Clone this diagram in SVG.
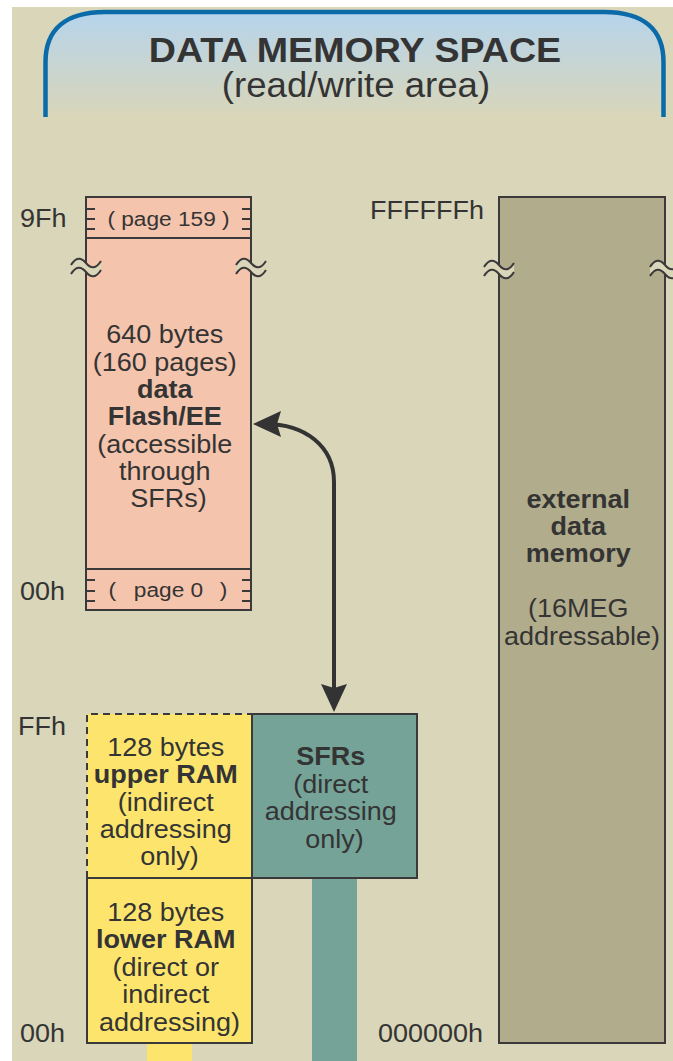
<svg xmlns="http://www.w3.org/2000/svg" xmlns:xlink="http://www.w3.org/1999/xlink" width="673" height="1061" viewBox="0 0 673 1061">
  <style>
    .txt { font-family: "Liberation Sans", Arial, Helvetica, sans-serif; fill: #343434; }
    .body { font-size: 25px; text-anchor: middle; }
    .addr { font-size: 25px; }
    .b { font-weight: bold; }
    .box { stroke: #3a3a3a; stroke-width: 2; }
    .tick { stroke: #3a3a3a; stroke-width: 2; fill: none; }
    .wave { stroke: #3a3a3a; stroke-width: 2; fill: none; }
    .conn { stroke: #333333; stroke-width: 4; fill: none; }
  </style>
  <defs>
    <linearGradient id="hdrFill" x1="0" y1="12" x2="0" y2="117" gradientUnits="userSpaceOnUse">
      <stop offset="0" stop-color="#b6d4ec"/>
      <stop offset="1" stop-color="#d9d6b9"/>
    </linearGradient>
    <marker id="arrowHead" viewBox="0 0 28 26" refX="16" refY="13" markerWidth="28" markerHeight="26" markerUnits="userSpaceOnUse" orient="auto-start-reverse">
      <path d="M0,0 L28,13 L0,26 L4,13 Z" fill="#333333"/>
    </marker>
    <!-- break mark: background band between two tildes -->
    <g id="brk">
      <path d="M-15,2 C-10,-6 -5,-6 0,0 C5,6 10,6 15,-2 L15,7 C10,15 5,15 0,9 C-5,3 -10,3 -15,11 Z" fill="#d9d6b9"/>
      <path class="wave" d="M-15,2 C-10,-6 -5,-6 0,0 C5,6 10,6 15,-2"/>
      <path class="wave" d="M-15,11 C-10,3 -5,3 0,9 C5,15 10,15 15,7"/>
    </g>
  </defs>

  <!-- page -->
  <rect x="0" y="0" width="673" height="1061" fill="#ffffff"/>
  <rect x="12" y="7" width="661" height="1054" fill="#d9d6b9"/>

  <!-- header banner -->
  <g id="header">
    <path d="M45.5,117 V62 C45.5,30 65,12 105,12 H604 C644,12 663.5,30 663.5,62 V117 Z" fill="url(#hdrFill)"/>
    <path d="M45.5,117 V62 C45.5,30 65,12 105,12 H604 C644,12 663.5,30 663.5,62 V117" fill="none" stroke="#0b6aa8" stroke-width="4.5"/>
    <g transform="translate(355,0) scale(1.075,1)">
      <text class="txt b" x="0" y="62" font-size="35" text-anchor="middle">DATA MEMORY SPACE</text>
    </g>
    <g transform="translate(356,0) scale(1.06,1)">
      <text class="txt" x="0" y="97" font-size="34.5" text-anchor="middle">(read/write area)</text>
    </g>
  </g>

  <!-- data Flash/EE -->
  <g id="flash">
    <rect class="box" x="86" y="197" width="165" height="413" fill="#f5c4ad"/>
    <path class="box" d="M86,238 H251 M86,569 H251" fill="none"/>
    <path class="tick" d="M86,209 h9 M86,219 h9 M86,229 h9 M242,209 h9 M242,219 h9 M242,229 h9"/>
    <path class="tick" d="M86,580 h9 M86,591 h9 M86,601 h9 M242,580 h9 M242,591 h9 M242,601 h9"/>
    <use xlink:href="#brk" transform="translate(86,263)"/>
    <use xlink:href="#brk" transform="translate(251,263)"/>
    <g transform="translate(168.5,0) scale(1.08,1)">
      <text class="txt" x="0" y="226" font-size="21" text-anchor="middle">( page 159 )</text>
      <text class="txt" font-size="21" text-anchor="middle" y="597"><tspan x="-52">(</tspan><tspan x="0">page 0</tspan><tspan x="51">)</tspan></text>
      <text class="txt body">
        <tspan x="0" y="343">640 bytes</tspan>
        <tspan x="0" y="371">(160 pages)</tspan>
        <tspan x="0" y="398" class="b">data</tspan>
        <tspan x="0" y="425" class="b">Flash/EE</tspan>
        <tspan x="0" y="453">(accessible</tspan>
        <tspan x="0" y="480">through</tspan>
        <tspan x="0" y="507">SFRs)</tspan>
      </text>
    </g>
  </g>

  <!-- external data memory -->
  <g id="external">
    <rect class="box" x="499" y="197" width="166" height="846" fill="#b1ac8b"/>
    <use xlink:href="#brk" transform="translate(499,265)"/>
    <use xlink:href="#brk" transform="translate(665,265)"/>
    <g transform="translate(582,0) scale(1.08,1)">
      <text class="txt body">
        <tspan x="0" y="508" class="b">external</tspan>
        <tspan x="0" y="535" class="b">data</tspan>
        <tspan x="0" y="562" class="b">memory</tspan>
        <tspan x="0" y="617">(16MEG</tspan>
        <tspan x="0" y="645">addressable)</tspan>
      </text>
    </g>
  </g>

  <!-- SFR bus stub and lower RAM stub -->
  <g id="stubs">
    <rect x="312" y="878" width="45" height="183" fill="#75a398"/>
    <rect x="147" y="1043" width="45" height="18" fill="#fde56d"/>
  </g>

  <!-- upper RAM -->
  <g id="upperRam">
    <rect x="87" y="714" width="165" height="164" fill="#fde56d"/>
    <path d="M87,878 V714 H252" fill="none" stroke="#3a3a3a" stroke-width="2" stroke-dasharray="7 5"/>
    <g transform="translate(169.5,0) scale(1.08,1)">
      <text class="txt body">
        <tspan x="0" y="756">128 bytes</tspan>
        <tspan x="0" y="783" class="b">upper RAM</tspan>
        <tspan x="0" y="811">(indirect</tspan>
        <tspan x="0" y="838">addressing</tspan>
        <tspan x="0" y="865">only)</tspan>
      </text>
    </g>
  </g>

  <!-- lower RAM -->
  <g id="lowerRam">
    <rect class="box" x="87" y="878" width="165" height="165" fill="#fde56d"/>
    <g transform="translate(169.5,0) scale(1.08,1)">
      <text class="txt body">
        <tspan x="0" y="921">128 bytes</tspan>
        <tspan x="0" y="948" class="b">lower RAM</tspan>
        <tspan x="0" y="976">(direct or</tspan>
        <tspan x="0" y="1003">indirect</tspan>
        <tspan x="0" y="1031">addressing)</tspan>
      </text>
    </g>
  </g>

  <!-- SFRs -->
  <g id="sfr">
    <rect class="box" x="252" y="714" width="165" height="164" fill="#75a398"/>
    <g transform="translate(334.5,0) scale(1.08,1)">
      <text class="txt body">
        <tspan x="0" y="765" class="b">SFRs</tspan>
        <tspan x="0" y="793">(direct</tspan>
        <tspan x="0" y="820">addressing</tspan>
        <tspan x="0" y="848">only)</tspan>
      </text>
    </g>
  </g>

  <!-- address labels -->
  <g id="addresses">
    <text class="txt addr" transform="translate(20,227) scale(1.08,1)">9Fh</text>
    <text class="txt addr" transform="translate(20,600) scale(1.08,1)">00h</text>
    <text class="txt addr" transform="translate(18,735) scale(1.08,1)">FFh</text>
    <text class="txt addr" transform="translate(20,1042) scale(1.08,1)">00h</text>
    <text class="txt addr" transform="translate(370,219) scale(1.08,1)">FFFFFFh</text>
    <text class="txt addr" transform="translate(378,1042) scale(1.08,1)">000000h</text>
  </g>

  <!-- connectors -->
  <g id="connectors">
    <path class="conn" d="M265,424 C305,424 334,446 334,482 L334,700" marker-start="url(#arrowHead)" marker-end="url(#arrowHead)"/>
  </g>
</svg>
